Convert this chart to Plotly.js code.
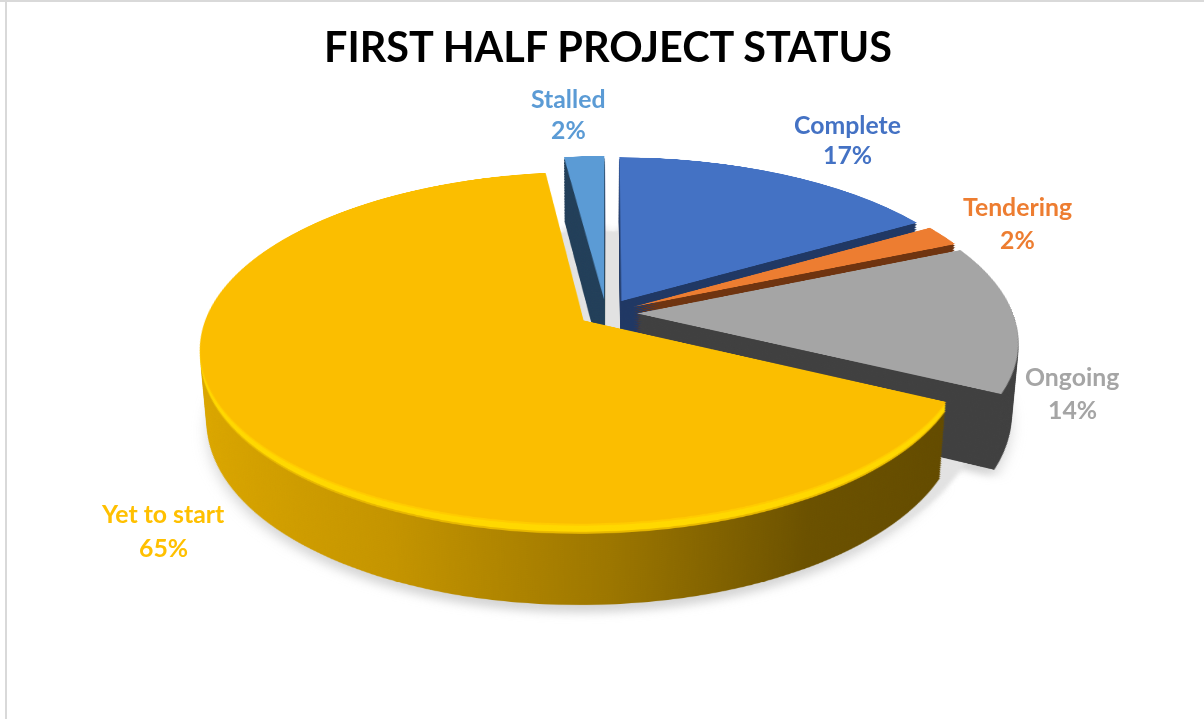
<!DOCTYPE html>
<html>
<head>
<meta charset="utf-8">
<script src="https://cdn.plot.ly/plotly-3.0.1.min.js"></script>
<style>
html,body{margin:0;padding:0;background:#fff;width:1204px;height:719px;overflow:hidden}
#stage{position:relative;width:1204px;height:719px;overflow:hidden;background:#fff}
.layer{position:absolute;transform-origin:50% 50%}
#chart{position:absolute;left:0;top:0;width:1204px;height:719px}
</style>
</head>
<body>
<div id="stage"><div id="chart"></div></div>
<script>
var categories = ['Complete','Tendering','Ongoing','Yet to start','Stalled'];
var values = [16.5, 2, 13.8, 65.7, 2.0];
var percentLabels = ['17%','2%','14%','65%','2%'];
var topColors = ['#4472C4','#ED7D31','#A5A5A5','#FBBE00','#5B9BD5'];
var sideColors = ['#203864','#6F3410','#404040','#C09000','#223F59'];
var labelColors = ['#4472C4','#ED7D31','#A5A5A5','#FFC000','#5B9BD5'];
var pulls = [0.083,0.083,0.083,0.073,0.083];
var labelX = [847,1017,1072,163,568];
var labelY = [124,207,377,513,98];
var pctY = [155,239,409,547,130];

var R=376, cx=606, cy=313, tilt=63.2, dist=2166, depth=82, step=2;
var maxPull=Math.max.apply(null,pulls);
var size=2*R*(1+maxPull);
var stage=document.getElementById('stage');
var chart=document.getElementById('chart');

function baseTrace(colors,usePull){
  var inset=usePull?0:(1-1/(1+maxPull))/2;
  return [{type:'pie',values:values,labels:categories,sort:false,direction:'clockwise',rotation:0,
    pull:usePull?pulls:values.map(function(){return 0;}),textinfo:'none',showlegend:false,hoverinfo:'skip',
    marker:{colors:colors,line:{width:0}},domain:{x:[inset,1-inset],y:[inset,1-inset]}}];
}
function addLayer(colors,z,extra,useGrad,id,usePull){
  var d=document.createElement('div');
  d.className='layer';
  d.style.left=(cx-size/2)+'px';d.style.top=(cy-size/2)+'px';
  d.style.width=size+'px';d.style.height=size+'px';
  d.style.transform='perspective('+dist+'px) rotateX('+tilt+'deg) translateZ('+z+'px)';
  if(extra){for(var k in extra){d.style[k]=extra[k];}}
  stage.insertBefore(d,chart);
  return Plotly.newPlot(d,baseTrace(colors,usePull!==false),{width:size,height:size,margin:{l:0,r:0,t:0,b:0},
    paper_bgcolor:'rgba(0,0,0,0)',plot_bgcolor:'rgba(0,0,0,0)',showlegend:false},{staticPlot:true,displayModeBar:false}).then(function(){
      if(!useGrad)return;
      var svg=d.querySelector('svg.main-svg');
      var ns='http://www.w3.org/2000/svg';
      var gid='g'+id;
      var lg=document.createElementNS(ns,'linearGradient');
      lg.setAttribute('id',gid);lg.setAttribute('gradientUnits','userSpaceOnUse');
      var off=size/2-cx;
      lg.setAttribute('x1',200+off);lg.setAttribute('x2',945+off);lg.setAttribute('y1',0);lg.setAttribute('y2',0);
      [[0,'#DDA800'],[0.3,'#C49400'],[0.55,'#9C7600'],[0.78,'#6B5100'],[1,'#624A00']].forEach(function(s){
        var st=document.createElementNS(ns,'stop');st.setAttribute('offset',s[0]);st.setAttribute('stop-color',s[1]);lg.appendChild(st);
      });
      var defs=document.createElementNS(ns,'defs');defs.appendChild(lg);svg.insertBefore(defs,svg.firstChild);
      var paths=d.querySelectorAll('.slice path.surface');
      if(paths[3])paths[3].style.fill='url(#'+gid+')';
    });
}
function withYellow(color){
  return sideColors.map(function(c,i){return i===3?color:c;});
}
var shadowColors=values.map(function(){return '#9a9a9a';});
var gapColors=values.map(function(){return '#E2E2E2';});
var chain=addLayer(shadowColors,-depth-8,{filter:'blur(7px)',opacity:'0.42'},false,'s');
chain=chain.then(function(){return addLayer(gapColors,-depth,{filter:'blur(2px)'},false,'c',false);});
for(var z=depth;z>=2;z-=step){
  (function(z){
    chain=chain.then(function(){
      if(z<=3) return addLayer(withYellow('#FFCB00'),-z,null,false,z);
      if(z<=8) return addLayer(withYellow('#FFD800'),-z,null,false,z);
      if(z<=11) return addLayer(withYellow('#E8B800'),-z,null,false,z);
      return addLayer(sideColors,-z,null,true,z);
    });
  })(z);
}
chain=chain.then(function(){return addLayer(topColors,0,null,false,'t');});

var annotations=[];
categories.forEach(function(c,i){
  annotations.push({xref:'paper',yref:'paper',x:labelX[i]/1204,y:1-labelY[i]/719,text:'<b>'+c+'</b>',showarrow:false,xanchor:'center',yanchor:'middle',font:{family:'Lato',size:24.8,color:labelColors[i]}});
  annotations.push({xref:'paper',yref:'paper',x:labelX[i]/1204,y:1-pctY[i]/719,text:'<b>'+percentLabels[i]+'</b>',showarrow:false,xanchor:'center',yanchor:'middle',font:{family:'Lato',size:24.8,color:labelColors[i]}});
});
Plotly.newPlot(chart,[],{
  width:1204,height:719,margin:{l:0,r:0,t:0,b:0},paper_bgcolor:'rgba(0,0,0,0)',plot_bgcolor:'rgba(0,0,0,0)',
  xaxis:{visible:false},yaxis:{visible:false},
  title:{text:'<b>FIRST HALF PROJECT STATUS</b>',x:608/1204,xanchor:'center',y:1-48/719,yanchor:'middle',font:{family:'Lato',size:41.4,color:'#000'}},
  annotations:annotations,
  shapes:[
    {type:'line',xref:'paper',yref:'paper',x0:6/1204,x1:6/1204,y0:0,y1:1,line:{color:'#D9D9D9',width:2}},
    {type:'line',xref:'paper',yref:'paper',x0:0,x1:1,y0:1-1/719,y1:1-1/719,line:{color:'#D9D9D9',width:2}}
  ]
},{staticPlot:true,displayModeBar:false});
</script>
</body>
</html>
